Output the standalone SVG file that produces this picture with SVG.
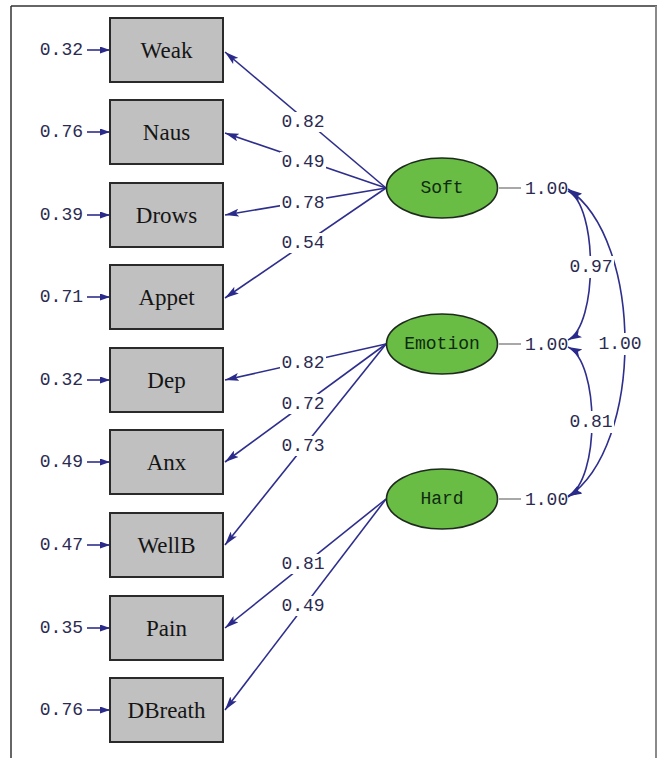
<svg xmlns="http://www.w3.org/2000/svg" width="657" height="758" viewBox="0 0 657 758">
<style>
.box{fill:#c0c0c0;stroke:#2a2a2a;stroke-width:2}
.bt{font-family:"Liberation Serif",serif;font-size:23px;fill:#151515;text-anchor:middle;dominant-baseline:central}
.ell{fill:#69bd45;stroke:#1e2a1e;stroke-width:1.6}
.et{font-family:"Liberation Mono",monospace;font-size:18px;fill:#0f2a0f;text-anchor:middle;dominant-baseline:central}
.num{font-family:"Liberation Mono",monospace;font-size:18px;fill:#2b2b52;dominant-baseline:central}
.lbl{text-anchor:middle}
.bg{fill:#fff}
.err{text-anchor:end}
.ln{stroke:#2e2e8c;stroke-width:1.6;fill:none}
.gray{stroke:#a8a8a8;stroke-width:2;fill:none}
</style>
<defs>
<marker id="ah" viewBox="0 0 14 8" refX="14" refY="4" markerWidth="14" markerHeight="8" markerUnits="userSpaceOnUse" orient="auto-start-reverse">
<path d="M0,0 L14,4 L0,8 L3,4 z" fill="#2a2a8a"/>
</marker>
<marker id="ahs" viewBox="0 0 10 7" refX="10" refY="3.5" markerWidth="10" markerHeight="7" markerUnits="userSpaceOnUse" orient="auto">
<path d="M0,0 L10,3.5 L0,7 z" fill="#2a2a8a"/>
</marker>
</defs>
<g id="frame">
<line x1="11" y1="6" x2="657" y2="6" stroke="#333" stroke-width="1.5"/>
<line x1="11" y1="6" x2="11" y2="758" stroke="#333" stroke-width="1.5"/>
<line x1="656" y1="6" x2="656" y2="758" stroke="#8a8a8a" stroke-width="2"/>
</g>
<g id="connectors">
<line class="ln" x1="386" y1="188" x2="225" y2="52" marker-end="url(#ah)"/>
<line class="ln" x1="386" y1="188" x2="225" y2="133" marker-end="url(#ah)"/>
<line class="ln" x1="386" y1="188" x2="225" y2="215" marker-end="url(#ah)"/>
<line class="ln" x1="386" y1="188" x2="225" y2="298" marker-end="url(#ah)"/>
<line class="ln" x1="386" y1="344" x2="225" y2="380" marker-end="url(#ah)"/>
<line class="ln" x1="386" y1="344" x2="225" y2="462" marker-end="url(#ah)"/>
<line class="ln" x1="386" y1="344" x2="225" y2="545" marker-end="url(#ah)"/>
<line class="ln" x1="386" y1="499" x2="225" y2="628" marker-end="url(#ah)"/>
<line class="ln" x1="386" y1="499" x2="225" y2="710" marker-end="url(#ah)"/>
<line class="ln" x1="87" y1="50" x2="110" y2="50" marker-end="url(#ahs)"/>
<line class="ln" x1="87" y1="132" x2="110" y2="132" marker-end="url(#ahs)"/>
<line class="ln" x1="87" y1="215" x2="110" y2="215" marker-end="url(#ahs)"/>
<line class="ln" x1="87" y1="297" x2="110" y2="297" marker-end="url(#ahs)"/>
<line class="ln" x1="87" y1="380" x2="110" y2="380" marker-end="url(#ahs)"/>
<line class="ln" x1="87" y1="462" x2="110" y2="462" marker-end="url(#ahs)"/>
<line class="ln" x1="87" y1="545" x2="110" y2="545" marker-end="url(#ahs)"/>
<line class="ln" x1="87" y1="628" x2="110" y2="628" marker-end="url(#ahs)"/>
<line class="ln" x1="87" y1="710" x2="110" y2="710" marker-end="url(#ahs)"/>
<line class="gray" x1="499" y1="188" x2="521" y2="188"/>
<line class="gray" x1="499" y1="344" x2="521" y2="344"/>
<line class="gray" x1="499" y1="499" x2="521" y2="499"/>
<path class="ln" d="M568,191 C598,206 598,325 568,340" marker-start="url(#ah)" marker-end="url(#ah)"/>
<path class="ln" d="M568,347 C600,362 600,481 568,496" marker-start="url(#ah)" marker-end="url(#ah)"/>
<path class="ln" d="M568,189 C644,240 644,446 568,497" marker-start="url(#ah)" marker-end="url(#ah)"/>
<rect class="bg" x="280" y="112" width="46" height="20"/>
<rect class="bg" x="280" y="152" width="46" height="20"/>
<rect class="bg" x="280" y="193" width="46" height="20"/>
<rect class="bg" x="280" y="233" width="46" height="20"/>
<rect class="bg" x="280" y="353" width="46" height="20"/>
<rect class="bg" x="280" y="394" width="46" height="20"/>
<rect class="bg" x="280" y="436" width="46" height="20"/>
<rect class="bg" x="280" y="554" width="46" height="20"/>
<rect class="bg" x="280" y="596" width="46" height="20"/>
<rect class="bg" x="568" y="256" width="46" height="22"/>
<rect class="bg" x="597" y="333" width="46" height="22"/>
<rect class="bg" x="568" y="411" width="46" height="22"/>
<text class="num lbl" x="303" y="122">0.82</text>
<text class="num lbl" x="303" y="162">0.49</text>
<text class="num lbl" x="303" y="203">0.78</text>
<text class="num lbl" x="303" y="243">0.54</text>
<text class="num lbl" x="303" y="363">0.82</text>
<text class="num lbl" x="303" y="404">0.72</text>
<text class="num lbl" x="303" y="446">0.73</text>
<text class="num lbl" x="303" y="564">0.81</text>
<text class="num lbl" x="303" y="606">0.49</text>
<text class="num lbl" x="591" y="267">0.97</text>
<text class="num lbl" x="620" y="344">1.00</text>
<text class="num lbl" x="591" y="422">0.81</text>
<text class="num" x="525" y="189">1.00</text>
<text class="num" x="525" y="345">1.00</text>
<text class="num" x="525" y="500">1.00</text>
<text class="num err" x="83" y="50">0.32</text>
<text class="num err" x="83" y="132">0.76</text>
<text class="num err" x="83" y="215">0.39</text>
<text class="num err" x="83" y="297">0.71</text>
<text class="num err" x="83" y="380">0.32</text>
<text class="num err" x="83" y="462">0.49</text>
<text class="num err" x="83" y="545">0.47</text>
<text class="num err" x="83" y="628">0.35</text>
<text class="num err" x="83" y="710">0.76</text>
</g>
<g id="Weak"><rect class="box" x="110" y="18" width="113" height="64"/><text class="bt" x="166.5" y="50">Weak</text></g>
<g id="Naus"><rect class="box" x="110" y="100" width="113" height="64"/><text class="bt" x="166.5" y="132">Naus</text></g>
<g id="Drows"><rect class="box" x="110" y="183" width="113" height="64"/><text class="bt" x="166.5" y="215">Drows</text></g>
<g id="Appet"><rect class="box" x="110" y="265" width="113" height="64"/><text class="bt" x="166.5" y="297">Appet</text></g>
<g id="Dep"><rect class="box" x="110" y="348" width="113" height="64"/><text class="bt" x="166.5" y="380">Dep</text></g>
<g id="Anx"><rect class="box" x="110" y="430" width="113" height="64"/><text class="bt" x="166.5" y="462">Anx</text></g>
<g id="WellB"><rect class="box" x="110" y="513" width="113" height="64"/><text class="bt" x="166.5" y="545">WellB</text></g>
<g id="Pain"><rect class="box" x="110" y="596" width="113" height="64"/><text class="bt" x="166.5" y="628">Pain</text></g>
<g id="DBreath"><rect class="box" x="110" y="678" width="113" height="64"/><text class="bt" x="166.5" y="710">DBreath</text></g>
<g id="Soft"><ellipse class="ell" cx="442" cy="188" rx="55.5" ry="30"/><text class="et" x="442" y="188">Soft</text></g>
<g id="Emotion"><ellipse class="ell" cx="442" cy="344" rx="55.5" ry="30"/><text class="et" x="442" y="344">Emotion</text></g>
<g id="Hard"><ellipse class="ell" cx="442" cy="499" rx="55.5" ry="30"/><text class="et" x="442" y="499">Hard</text></g>
</svg>
